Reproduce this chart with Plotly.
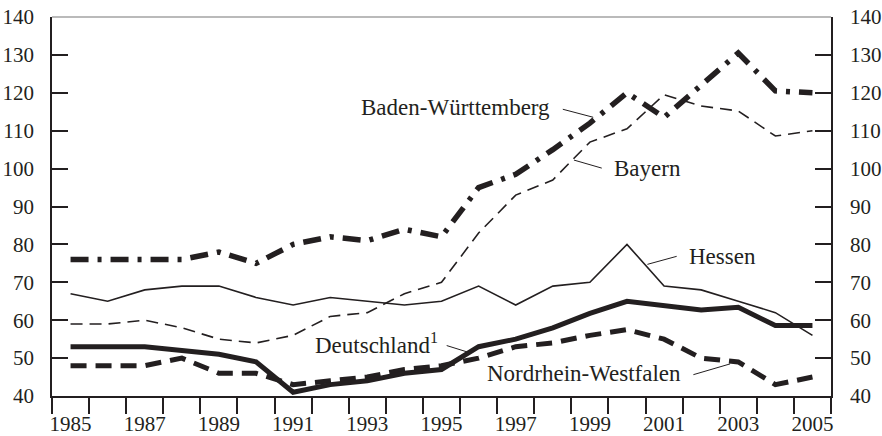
import plotly.graph_objects as go

years = list(range(1985, 2006))
baden_wuerttemberg = [76, 76, 76, 76, 78, 75, 80, 82, 81, 84, 82, 95, 98.5, 105, 112, 120, 113.5, 122, 130.5, 120.5, 120]
bayern = [59, 59, 60, 58, 55, 54, 56, 61, 62, 67, 70, 83, 93, 97, 107, 110.5, 119.5, 116.5, 115.2, 108.6, 110]
hessen = [67, 65, 68, 69, 69, 66, 64, 66, 65, 64, 65, 69, 64, 69, 70, 80, 69, 68, 65, 62, 56]
deutschland = [53, 53, 53, 52, 51, 49, 41, 43, 44, 46, 47, 53, 55, 58, 61.8, 65, 64, 62.7, 63.4, 58.6, 58.6]
nrw = [48, 48, 48, 50, 46, 46, 43, 44, 45, 47, 48, 50, 53, 54, 56, 57.5, 55, 50, 49, 43, 45]

tick_years = [1985, 1987, 1989, 1991, 1993, 1995, 1997, 1999, 2001, 2003, 2005]
tick_labels = [str(y) for y in tick_years]
y_ticks = [40, 50, 60, 70, 80, 90, 100, 110, 120, 130, 140]

INK = "#231f20"
FONT = "Liberation Serif, Times New Roman, serif"

fig = go.Figure()
fig.add_trace(go.Scatter(x=years, y=hessen, mode="lines", line=dict(color=INK, width=1.6), name="Hessen"))
fig.add_trace(go.Scatter(x=years, y=bayern, mode="lines", line=dict(color=INK, width=1.6, dash="12px,7px"), name="Bayern"))
fig.add_trace(go.Scatter(x=years, y=nrw, mode="lines", line=dict(color=INK, width=5, dash="16px,9px"), name="Nordrhein-Westfalen"))
fig.add_trace(go.Scatter(x=years, y=deutschland, mode="lines", line=dict(color=INK, width=5), name="Deutschland"))
fig.add_trace(go.Scatter(x=years, y=baden_wuerttemberg, mode="lines", line=dict(color=INK, width=5.5, dash="18px,9px,4px,9px"), name="Baden-Württemberg"))
# invisible trace for right axis
fig.add_trace(go.Scatter(x=[years[0]], y=[y_ticks[0]], mode="lines", line=dict(width=0), yaxis="y2", showlegend=False, hoverinfo="skip"))

boundaries = [y - 0.5 for y in years] + [years[-1] + 0.5]

fig.update_layout(
    width=882, height=436,
    margin=dict(l=52, r=51, t=17, b=40),
    paper_bgcolor="white", plot_bgcolor="white",
    showlegend=False,
    font=dict(family=FONT, color=INK, size=21),
    xaxis=dict(
        range=[years[0] - 0.5, years[-1] + 0.5],
        tickvals=tick_years, ticktext=tick_labels,
        ticks="", showgrid=False, zeroline=False,
        showline=True, linecolor=INK, linewidth=1.5,
        minor=dict(tickvals=boundaries, ticks="outside", ticklen=16, tickwidth=1.5, tickcolor=INK, showgrid=False),
        tickfont=dict(size=21, family=FONT, color=INK),
        ticklabelstandoff=8,
        automargin=False,
    ),
    yaxis=dict(
        range=[40, 140], tickvals=y_ticks,
        ticks="inside", ticklen=16, tickwidth=1.5, tickcolor=INK,
        showgrid=False, zeroline=False,
        showline=True, linecolor=INK, linewidth=1.5,
        tickfont=dict(size=21, family=FONT, color=INK),
        ticklabelstandoff=12,
        automargin=False,
    ),
    yaxis2=dict(
        range=[40, 140], tickvals=y_ticks, overlaying="y", side="right",
        ticks="inside", ticklen=16, tickwidth=1.5, tickcolor=INK,
        showgrid=False, zeroline=False,
        showline=True, linecolor=INK, linewidth=1.5,
        tickfont=dict(size=21, family=FONT, color=INK),
        ticklabelstandoff=13,
        automargin=False,
    ),
)

fig.add_shape(type="line", xref="paper", yref="paper", x0=0, x1=1, y0=1, y1=1, line=dict(color="#777777", width=1.2))

labels = [
    ("Baden-Württemberg", 1997.98, 116.0, "right", (1998.27, 115.66, 1999.09, 113.54)),
    ("Bayern", 1999.60, 100.05, "left", (1998.57, 102.25, 1999.32, 100.13)),
    ("Hessen", 2001.61, 76.85, "left", (2000.55, 74.73, 2001.34, 76.85)),
    ("Deutschland<sup>1</sup>", 1994.96, 53.84, "right", (1995.14, 53.31, 1995.72, 51.54)),
    ("Nordrhein-Westfalen", 2001.51, 45.98, "right", (2001.79, 45.63, 2002.78, 48.47)),
]
for text, x, y, anchor, (x0, y0, x1, y1) in labels:
    fig.add_annotation(x=x, y=y, xref="x", yref="y", text=text, showarrow=False,
                       xanchor=anchor, yanchor="middle", font=dict(size=23, family=FONT, color=INK))
    fig.add_shape(type="line", xref="x", yref="y", x0=x0, y0=y0, x1=x1, y1=y1, line=dict(color=INK, width=1))

fig.write_html("out.html", config={"displayModeBar": False},
               post_script="document.body.style.margin='0';document.body.style.overflow='hidden';")
